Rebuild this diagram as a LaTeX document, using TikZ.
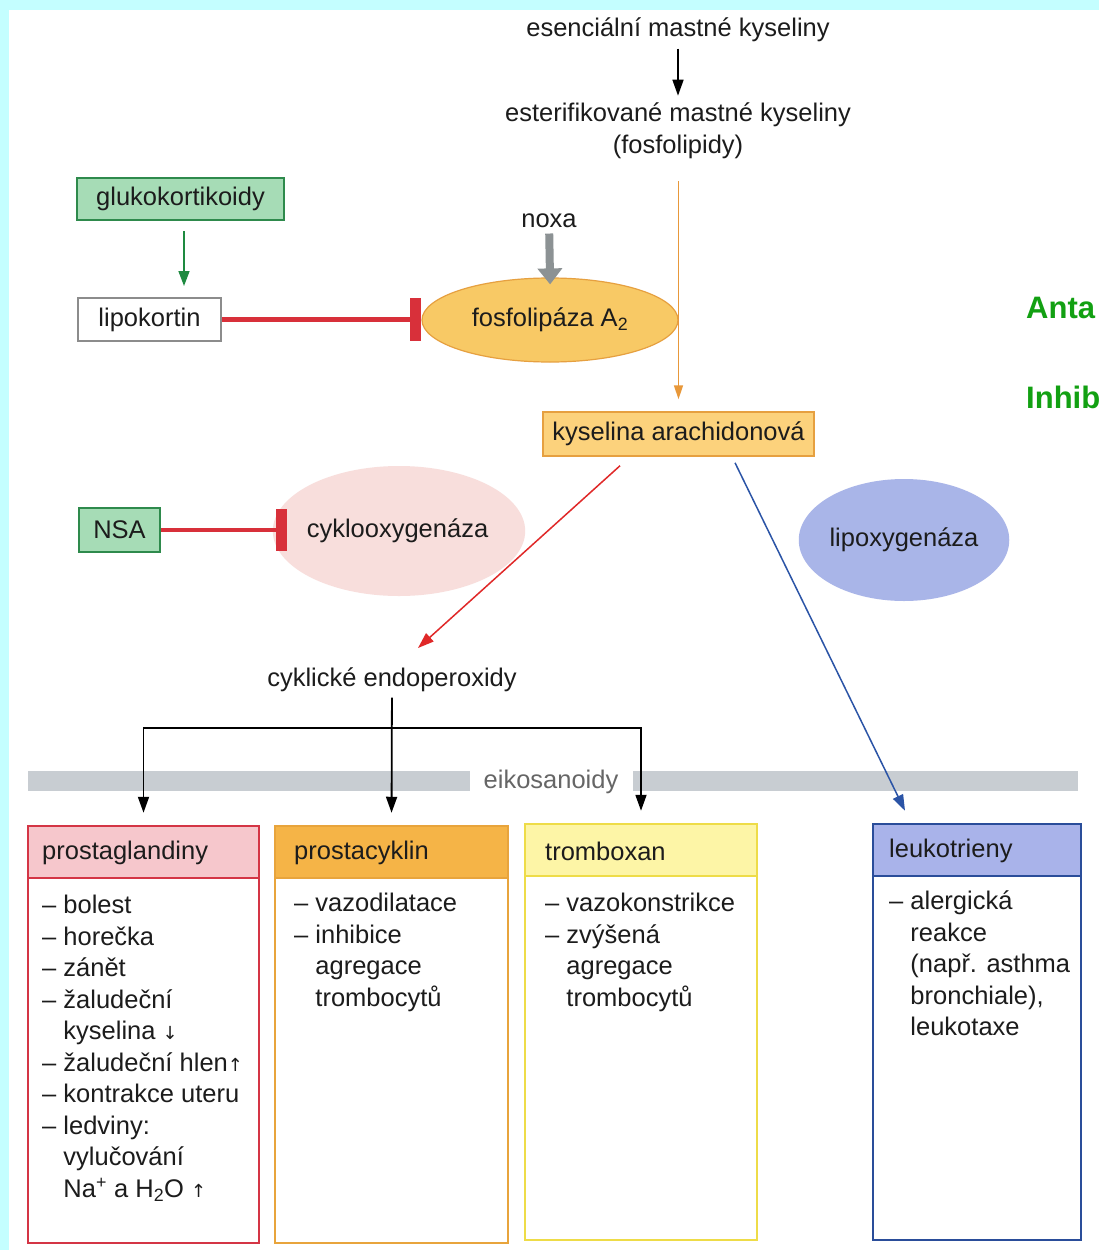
\documentclass[tikz,border=0pt]{standalone}
\usepackage{fontspec}
\setmainfont{Liberation Sans}
\newfontfamily\symfont{DejaVu Sans}
\usetikzlibrary{arrows.meta,shapes.geometric}
\definecolor{cyanbg}{HTML}{C4FEFF}
\definecolor{txt}{HTML}{1C1C1C}
\definecolor{gfill}{HTML}{A6DCB6}
\definecolor{gborder}{HTML}{2E8A4C}
\definecolor{garrow}{HTML}{1E8A40}
\definecolor{inhred}{HTML}{D8303A}
\definecolor{fosfill}{HTML}{F8C965}
\definecolor{fosborder}{HTML}{E6A040}
\definecolor{kysfill}{HTML}{FCD27C}
\definecolor{orline}{HTML}{E8983A}
\definecolor{coxfill}{HTML}{F8DEDC}
\definecolor{loxfill}{HTML}{A9B5E8}
\definecolor{bluearr}{HTML}{2B54A6}
\definecolor{redarr}{HTML}{E02828}
\definecolor{band}{HTML}{C8CDD2}
\definecolor{noxagray}{HTML}{8C9294}
\definecolor{pghead}{HTML}{F6C7CC}
\definecolor{pgborder}{HTML}{D43545}
\definecolor{pchead}{HTML}{F5B447}
\definecolor{pcborder}{HTML}{E8A43C}
\definecolor{tbhead}{HTML}{FDF5A6}
\definecolor{tbborder}{HTML}{EEDC48}
\definecolor{lkhead}{HTML}{A9B3EA}
\definecolor{lkborder}{HTML}{2A4D9A}
\definecolor{greentxt}{HTML}{12A012}
\newcommand{\smallarr}[1]{{\symfont\fontsize{18}{18}\selectfont #1}}
\begin{document}
\begin{tikzpicture}[x=1pt,y=-1pt,
  every node/.style={font=\fontsize{25.5}{31.5}\selectfont, text=txt},
  gbox/.style={draw=gborder, fill=gfill, line width=2.5pt, inner sep=0pt},
  inhbar/.style={fill=inhred, inner sep=0pt, minimum width=11pt},
  inhline/.style={draw=inhred, line width=4.5pt},
  blackarr/.style={draw=black, line width=1.8pt, -{Triangle[length=16pt,width=11pt]}},
  outerbox/.style={draw=#1, line width=2.5pt, inner sep=0pt, minimum width=231pt, minimum height=417pt},
  headbox/.style={inner sep=0pt, minimum height=52pt, anchor=north},
  listtxt/.style={align=left, anchor=north west, inner sep=0pt}
]
\clip (0,0) rectangle (1099,1250);
\fill[cyanbg] (0,0) rectangle (1099,1250);
\fill[white] (9,10) rectangle (1099,1250);

% top texts
\node (esenc) at (678,30) {esenciální mastné kyseliny};
\node[align=center] (ester) at (678,131) {esterifikované mastné kyseliny\\(fosfolipidy)};
\draw[blackarr, line width=1.6pt, shorten <=3pt, shorten >=4pt] (esenc) -- (ester);

% glucocorticoids
\node[gbox, minimum width=207pt, minimum height=42pt] (gluk) at (180.5,199) {glukokortikoidy};
\node[draw=black!45, fill=white, line width=2pt, minimum width=143pt, minimum height=43pt, inner sep=0pt] (lipo) at (149.5,319.5) {lipokortin};
\draw[draw=garrow, line width=1.6pt, -{Triangle[length=15pt,width=11pt]}, shorten <=10pt, shorten >=11pt]
  ([xshift=3.5pt]gluk.south) -- ([xshift=3.5pt]gluk.south |- lipo.north);

% phospholipase
\node[ellipse, minimum width=256pt, minimum height=84pt, inner sep=0pt, fill=fosfill, draw=fosborder, line width=1.2pt] (fos) at (550,320) {fosfolipáza A\textsubscript{2}};
\node[inhbar, minimum height=43pt] (bar1) at (415.5,319.5) {};
\draw[inhline] (lipo.east) -- (bar1.west);
\node (noxa) at (549,221) {noxa};
\draw[draw=noxagray, line width=8pt, -{Triangle[length=16pt,width=24pt]}, shorten <=2pt, shorten >=-7pt] (noxa) -- (fos.north);

% arachidonic acid
\node[draw=fosborder, fill=kysfill, line width=1.5pt, minimum width=271pt, minimum height=44pt, inner sep=0pt] (kys) at (678.5,434) {kyselina arachidonová};
\draw[draw=orline, line width=1.5pt, -{Triangle[length=14pt,width=9pt]}, shorten <=19pt, shorten >=12pt] (ester.south -| kys.north) -- (kys.north);

% cyclooxygenase and NSA
\node[ellipse, fill=coxfill, minimum width=208pt, minimum height=130pt, inner sep=0pt] (cox) at (399,531) {\hspace{-3pt}cyklooxygenáza};
\node[gbox, minimum width=81pt, minimum height=44pt] (nsa) at (119.5,530) {NSA};
\node[inhbar, minimum height=42pt] (bar2) at (281.5,530) {};
\draw[inhline] (nsa.east) -- (bar2.west);

% lipoxygenase
\node[ellipse, fill=loxfill, minimum width=210pt, minimum height=122pt, inner sep=0pt] (lox) at (904,540) {lipoxygenáza};

% cyclic endoperoxides
\node (endo) at (392,680) {cyklické endoperoxidy};
\draw[draw=redarr, line width=1.5pt, -{Triangle[length=16pt,width=11pt]}] ([xshift=-58.5pt,yshift=-9pt]kys.south) -- ([xshift=26pt,yshift=32pt]endo.center);

% eicosanoid band
\fill[band] (28,771) rectangle (1078,791);
\node[fill=white, minimum width=163pt, inner sep=1pt, text=black!60] (eiko) at (551,782) {eikosanoidy};

% boxes
\node[outerbox=pgborder] (pg) at (143.5,1034.5) {};
\node[outerbox=pcborder, minimum width=233pt] (pc) at (391.5,1034.5) {};
\node[outerbox=tbborder, minimum width=232pt, minimum height=416pt] (tb) at (641,1032) {};
\node[outerbox=lkborder, minimum width=208pt, minimum height=416pt] (lk) at (977,1032) {};

\node[headbox, fill=pghead, draw=pgborder, line width=2.5pt, minimum width=231pt] (pgh) at (pg.north) {};
\node[headbox, fill=pchead, draw=pcborder, line width=2.5pt, minimum width=233pt] (pch) at (pc.north) {};
\node[headbox, fill=tbhead, draw=tbborder, line width=2.5pt, minimum width=232pt] (tbh) at (tb.north) {};
\node[headbox, fill=lkhead, draw=lkborder, line width=2.5pt, minimum width=208pt] (lkh) at (lk.north) {};

\node[anchor=west, inner sep=0pt] (pgt) at (42,853) {prostaglandiny};
\node[anchor=west, inner sep=0pt] (pct) at (294,853) {prostacyklin};
\node[anchor=west, inner sep=0pt] (tbt) at (545,851) {tromboxan};
\node[anchor=west, inner sep=0pt] (lkt) at (889,851) {leukotrieny};

\node[listtxt] (pgl) at (42,895) {– bolest\\– horečka\\– zánět\\– žaludeční\\\phantom{– }kyselina \smallarr{↓}\\– žaludeční hlen\smallarr{↑}\\– kontrakce uteru\\– ledviny:\\\phantom{– }vylučování\\\phantom{– }Na\textsuperscript{+} a H\textsubscript{2}O \smallarr{↑}};
\node[listtxt] (pcl) at (294,893) {– vazodilatace\\– inhibice\\\phantom{– }agregace\\\phantom{– }trombocytů};
\node[listtxt] (tbl) at (545,893) {– vazokonstrikce\\– zvýšená\\\phantom{– }agregace\\\phantom{– }trombocytů};
\node[listtxt] (lkl) at (889,891) {– alergická\\\phantom{– }reakce\\\phantom{– }(např. asthma\\\phantom{– }bronchiale),\\\phantom{– }leukotaxe};

% tree arrows
\coordinate (br) at (392,728);
\draw[blackarr, shorten <=2pt, shorten >=12pt] (endo) -- (pc.north);
\draw[blackarr, shorten >=12pt] (br) -| (pg.north);
\draw[blackarr, shorten >=12pt] (br) -| (tb.north);

% blue arrow to leukotrienes
\draw[draw=bluearr, line width=1.5pt, -{Triangle[length=16pt,width=11pt]}] ([xshift=56.5pt,yshift=-6pt]kys.south) -- ([xshift=-72pt,yshift=12pt]lk.north);

% side green labels (cut off at the edge)
\node[anchor=west, inner sep=0pt, text=greentxt, font=\fontsize{31}{36}\selectfont\bfseries] (anta) at (1026,308) {Anta};
\node[anchor=west, inner sep=0pt, text=greentxt, font=\fontsize{31}{36}\selectfont\bfseries] (inhi) at (1026,397) {Inhib};
\end{tikzpicture}
\end{document}
